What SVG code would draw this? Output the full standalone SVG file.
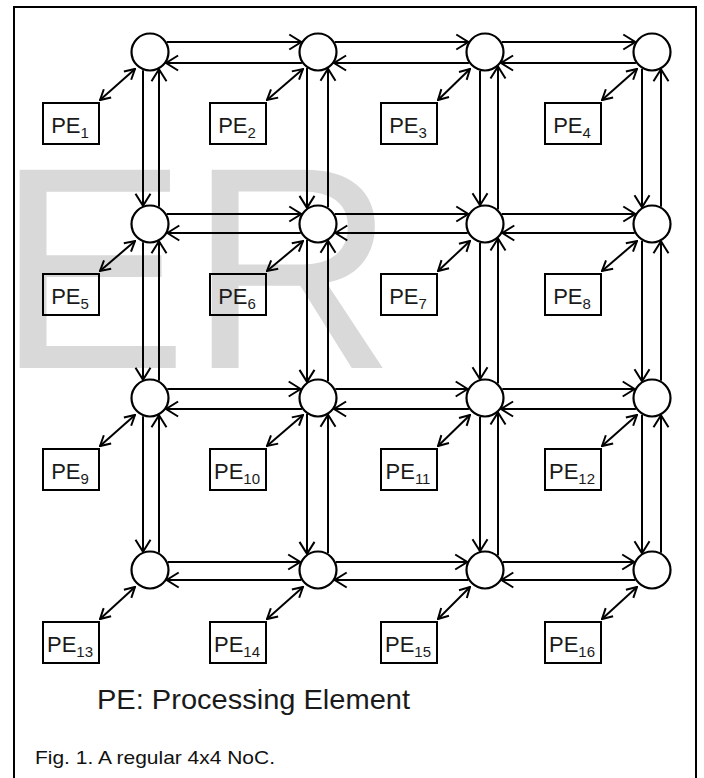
<svg xmlns="http://www.w3.org/2000/svg" width="704" height="778" viewBox="0 0 704 778">
<style>
.wm{font-family:"Liberation Sans",Arial,sans-serif;font-size:288px;fill:#d9d9d9}
.frame{fill:none;stroke:#000;stroke-width:2}
.l{stroke:#000;stroke-width:2;fill:none;marker-end:url(#ah)}
.p{stroke:#000;stroke-width:2;fill:none;marker-start:url(#ah2);marker-end:url(#ah2)}
.rt{fill:#fff;stroke:#000;stroke-width:2.2}
.pe{fill:none;stroke:#000;stroke-width:2}
.pt{font-family:"Liberation Sans",Arial,sans-serif;font-size:22px;fill:#1a1a1a;text-anchor:middle}
.sub{font-size:15px}
.leg{font-family:"Liberation Sans",Arial,sans-serif;font-size:28px;fill:#1a1a1a}
.cap{font-family:"Liberation Sans",Arial,sans-serif;font-size:19px;fill:#111}
</style>
<defs>
<marker id="ah" viewBox="0 0 14 18" refX="13" refY="9" markerWidth="14" markerHeight="18" markerUnits="userSpaceOnUse" orient="auto">
<path d="M1,1.5 L13,9 L1,16.5" fill="none" stroke="#000" stroke-width="2"/>
</marker>
<marker id="ah2" viewBox="0 0 12 14" refX="11" refY="7" markerWidth="12" markerHeight="14" markerUnits="userSpaceOnUse" orient="auto-start-reverse">
<path d="M1,1.5 L11,7 L1,12.5" fill="none" stroke="#000" stroke-width="2"/>
</marker>
</defs>
<rect width="704" height="778" fill="#fff"/>
<text class="wm" x="-4" y="368">ER</text>
<rect class="frame" x="14" y="7" width="682" height="800"/>
<g id="connectors">
<line class="l" x1="166.7" y1="42" x2="301.3" y2="42"/>
<line class="l" x1="334.7" y1="42" x2="468.3" y2="42"/>
<line class="l" x1="501.7" y1="42" x2="635.3" y2="42"/>
<line class="l" x1="301.9" y1="63" x2="166.1" y2="63"/>
<line class="l" x1="468.9" y1="63" x2="334.1" y2="63"/>
<line class="l" x1="635.9" y1="63" x2="501.1" y2="63"/>
<line class="l" x1="166.7" y1="214" x2="301.3" y2="214"/>
<line class="l" x1="334.7" y1="214" x2="468.3" y2="214"/>
<line class="l" x1="501.7" y1="214" x2="635.3" y2="214"/>
<line class="l" x1="300.7" y1="233" x2="167.3" y2="233"/>
<line class="l" x1="467.7" y1="233" x2="335.3" y2="233"/>
<line class="l" x1="634.7" y1="233" x2="502.3" y2="233"/>
<line class="l" x1="167.3" y1="389" x2="300.7" y2="389"/>
<line class="l" x1="335.3" y1="389" x2="467.7" y2="389"/>
<line class="l" x1="502.3" y1="389" x2="634.7" y2="389"/>
<line class="l" x1="301.9" y1="409" x2="166.1" y2="409"/>
<line class="l" x1="468.9" y1="409" x2="334.1" y2="409"/>
<line class="l" x1="635.9" y1="409" x2="501.1" y2="409"/>
<line class="l" x1="167.8" y1="562" x2="300.2" y2="562"/>
<line class="l" x1="335.8" y1="562" x2="467.2" y2="562"/>
<line class="l" x1="502.8" y1="562" x2="634.2" y2="562"/>
<line class="l" x1="301.3" y1="580" x2="166.7" y2="580"/>
<line class="l" x1="468.3" y1="580" x2="334.7" y2="580"/>
<line class="l" x1="635.3" y1="580" x2="501.3" y2="580"/>
<line class="l" x1="143" y1="70.2" x2="143" y2="205.8"/>
<line class="l" x1="143" y1="242.2" x2="143" y2="379.8"/>
<line class="l" x1="143" y1="416.2" x2="143" y2="551.8"/>
<line class="l" x1="159" y1="206.7" x2="159" y2="69.3"/>
<line class="l" x1="159" y1="380.7" x2="159" y2="241.3"/>
<line class="l" x1="159" y1="552.7" x2="159" y2="415.3"/>
<line class="l" x1="307" y1="68.1" x2="307" y2="207.9"/>
<line class="l" x1="307" y1="240.1" x2="307" y2="381.9"/>
<line class="l" x1="307" y1="414.1" x2="307" y2="553.9"/>
<line class="l" x1="328" y1="207.3" x2="328" y2="68.7"/>
<line class="l" x1="328" y1="381.3" x2="328" y2="240.7"/>
<line class="l" x1="328" y1="553.3" x2="328" y2="414.7"/>
<line class="l" x1="480" y1="70.9" x2="480" y2="205.2"/>
<line class="l" x1="480" y1="242.9" x2="480" y2="379.2"/>
<line class="l" x1="480" y1="416.9" x2="480" y2="551.2"/>
<line class="l" x1="498" y1="209.5" x2="498" y2="66.5"/>
<line class="l" x1="498" y1="383.5" x2="498" y2="238.5"/>
<line class="l" x1="498" y1="555.5" x2="498" y2="412.5"/>
<line class="l" x1="642" y1="68.7" x2="642" y2="207.3"/>
<line class="l" x1="642" y1="240.7" x2="642" y2="381.3"/>
<line class="l" x1="642" y1="414.7" x2="642" y2="553.3"/>
<line class="l" x1="661" y1="206.7" x2="661" y2="69.3"/>
<line class="l" x1="661" y1="380.7" x2="661" y2="241.3"/>
<line class="l" x1="661" y1="552.7" x2="661" y2="415.3"/>
<line class="p" x1="100" y1="100" x2="135" y2="69"/>
<line class="p" x1="267" y1="100" x2="303" y2="69"/>
<line class="p" x1="438" y1="100" x2="470" y2="69"/>
<line class="p" x1="602" y1="100" x2="637" y2="69"/>
<line class="p" x1="100" y1="271" x2="135" y2="241"/>
<line class="p" x1="267" y1="271" x2="303" y2="241"/>
<line class="p" x1="438" y1="271" x2="470" y2="241"/>
<line class="p" x1="602" y1="271" x2="637" y2="241"/>
<line class="p" x1="100" y1="446" x2="135" y2="415"/>
<line class="p" x1="267" y1="446" x2="303" y2="415"/>
<line class="p" x1="438" y1="446" x2="470" y2="415"/>
<line class="p" x1="602" y1="446" x2="637" y2="415"/>
<line class="p" x1="100" y1="619" x2="135" y2="587"/>
<line class="p" x1="267" y1="619" x2="303" y2="587"/>
<line class="p" x1="438" y1="619" x2="470" y2="587"/>
<line class="p" x1="602" y1="619" x2="637" y2="587"/>
</g>
<g id="R1"><circle class="rt" cx="150" cy="52" r="18.5"/></g>
<g id="R2"><circle class="rt" cx="318" cy="52" r="18.5"/></g>
<g id="R3"><circle class="rt" cx="485" cy="52" r="18.5"/></g>
<g id="R4"><circle class="rt" cx="652" cy="52" r="18.5"/></g>
<g id="R5"><circle class="rt" cx="150" cy="224" r="18.5"/></g>
<g id="R6"><circle class="rt" cx="318" cy="224" r="18.5"/></g>
<g id="R7"><circle class="rt" cx="485" cy="224" r="18.5"/></g>
<g id="R8"><circle class="rt" cx="652" cy="224" r="18.5"/></g>
<g id="R9"><circle class="rt" cx="150" cy="398" r="18.5"/></g>
<g id="R10"><circle class="rt" cx="318" cy="398" r="18.5"/></g>
<g id="R11"><circle class="rt" cx="485" cy="398" r="18.5"/></g>
<g id="R12"><circle class="rt" cx="652" cy="398" r="18.5"/></g>
<g id="R13"><circle class="rt" cx="150" cy="570" r="18.5"/></g>
<g id="R14"><circle class="rt" cx="318" cy="570" r="18.5"/></g>
<g id="R15"><circle class="rt" cx="485" cy="570" r="18.5"/></g>
<g id="R16"><circle class="rt" cx="652" cy="570" r="18.5"/></g>
<g id="PE1"><rect class="pe" x="43" y="103" width="56" height="41"/><text class="pt" x="70" y="133">PE<tspan class="sub" dy="5">1</tspan></text></g>
<g id="PE2"><rect class="pe" x="210" y="103" width="56" height="41"/><text class="pt" x="237" y="133">PE<tspan class="sub" dy="5">2</tspan></text></g>
<g id="PE3"><rect class="pe" x="381" y="103" width="56" height="41"/><text class="pt" x="408" y="133">PE<tspan class="sub" dy="5">3</tspan></text></g>
<g id="PE4"><rect class="pe" x="545" y="103" width="56" height="41"/><text class="pt" x="572" y="133">PE<tspan class="sub" dy="5">4</tspan></text></g>
<g id="PE5"><rect class="pe" x="43" y="274" width="56" height="41"/><text class="pt" x="70" y="304">PE<tspan class="sub" dy="5">5</tspan></text></g>
<g id="PE6"><rect class="pe" x="210" y="274" width="56" height="41"/><text class="pt" x="237" y="304">PE<tspan class="sub" dy="5">6</tspan></text></g>
<g id="PE7"><rect class="pe" x="381" y="274" width="56" height="41"/><text class="pt" x="408" y="304">PE<tspan class="sub" dy="5">7</tspan></text></g>
<g id="PE8"><rect class="pe" x="545" y="274" width="56" height="41"/><text class="pt" x="572" y="304">PE<tspan class="sub" dy="5">8</tspan></text></g>
<g id="PE9"><rect class="pe" x="43" y="449" width="56" height="41"/><text class="pt" x="70" y="479">PE<tspan class="sub" dy="5">9</tspan></text></g>
<g id="PE10"><rect class="pe" x="210" y="449" width="56" height="41"/><text class="pt" x="237" y="479">PE<tspan class="sub" dy="5">10</tspan></text></g>
<g id="PE11"><rect class="pe" x="381" y="449" width="56" height="41"/><text class="pt" x="408" y="479">PE<tspan class="sub" dy="5">11</tspan></text></g>
<g id="PE12"><rect class="pe" x="545" y="449" width="56" height="41"/><text class="pt" x="572" y="479">PE<tspan class="sub" dy="5">12</tspan></text></g>
<g id="PE13"><rect class="pe" x="43" y="622" width="56" height="41"/><text class="pt" x="70" y="652">PE<tspan class="sub" dy="5">13</tspan></text></g>
<g id="PE14"><rect class="pe" x="210" y="622" width="56" height="41"/><text class="pt" x="237" y="652">PE<tspan class="sub" dy="5">14</tspan></text></g>
<g id="PE15"><rect class="pe" x="381" y="622" width="56" height="41"/><text class="pt" x="408" y="652">PE<tspan class="sub" dy="5">15</tspan></text></g>
<g id="PE16"><rect class="pe" x="545" y="622" width="56" height="41"/><text class="pt" x="572" y="652">PE<tspan class="sub" dy="5">16</tspan></text></g>
<text class="leg" x="97" y="709" textLength="313" lengthAdjust="spacingAndGlyphs">PE: Processing Element</text>
<text class="cap" x="35" y="764" textLength="240" lengthAdjust="spacingAndGlyphs">Fig. 1. A regular 4x4 NoC.</text>
</svg>
